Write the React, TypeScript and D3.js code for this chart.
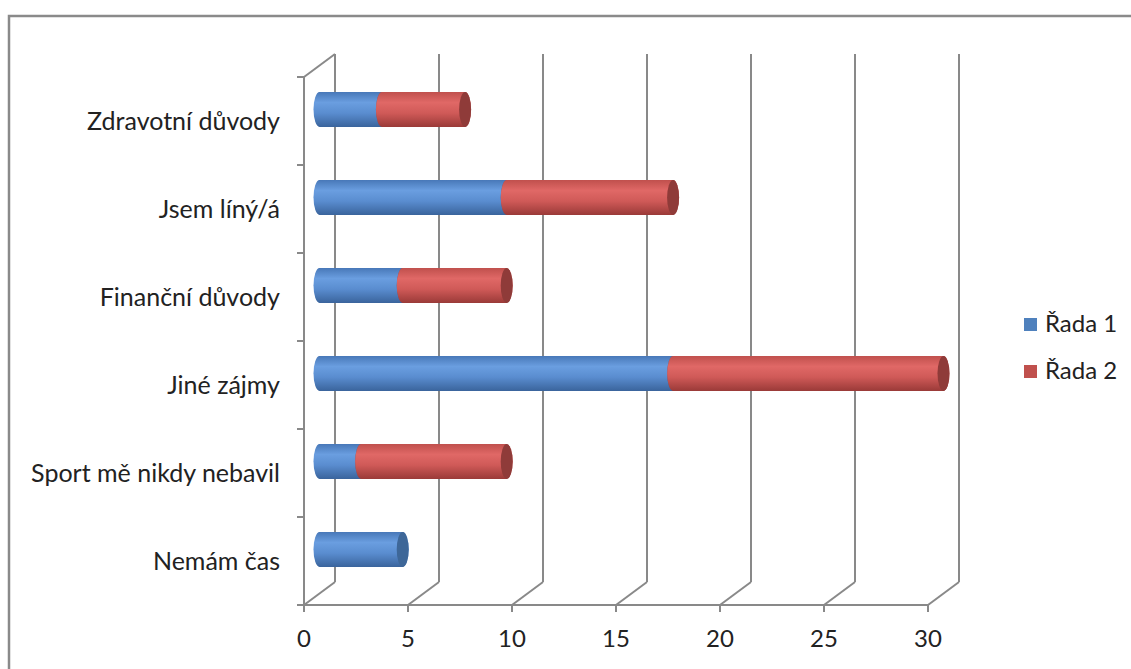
import React from "react";
import * as d3 from "d3";

const categories = [
  "Zdravotní důvody",
  "Jsem líný/á",
  "Finanční důvody",
  "Jiné zájmy",
  "Sport mě nikdy nebavil",
  "Nemám čas",
];
const series1 = [3, 9, 4, 17, 2, 4];
const series2 = [4, 8, 5, 13, 7, 0];
const seriesNames = ["Řada 1", "Řada 2"];
const xTicks = [0, 5, 10, 15, 20, 25, 30];

const W = 1131;
const H = 669;
const FONT = "Lato, 'Open Sans', sans-serif";
const GRID = "#898989";

export default function App() {
  const x = d3.scaleLinear().domain([0, 30]).range([304, 928]);
  const y = d3.scaleBand<string>().domain(categories).range([77, 605]);
  const dx = 31;
  const dy = -23;
  const midDx = dx / 2;
  const midDy = dy / 2;
  const barH = 35;
  const rx = 6;
  const ry = barH / 2;
  const top = 77;
  const bottom = 605;

  const stack = d3
    .stack<number>()
    .keys(["a", "b"])
    .value((i, k) => (k === "a" ? series1[i] : series2[i]));
  const stacked = stack(categories.map((_, i) => i));

  const grads = [
    { id: "g1", stops: ["#4878b8", "#6a9ee0", "#5a8dd0", "#3a649c"], cap: "#3e6798" },
    { id: "g2", stops: ["#c0504d", "#e06866", "#d05a58", "#9a3a38"], cap: "#8f3b39" },
  ];

  const cyl = (x0: number, x1: number, cy: number) => {
    const yt = cy - ry;
    const yb = cy + ry;
    return `M${x0},${yt} L${x1},${yt} A${rx},${ry} 0 0 1 ${x1},${yb} L${x0},${yb} A${rx},${ry} 0 0 1 ${x0},${yt} Z`;
  };

  return (
    <svg
      width={W}
      height={H}
      style={{ position: "absolute", left: 0, top: 0, background: "#fff" }}
    >
      <defs>
        {grads.map((g) => (
          <linearGradient key={g.id} id={g.id} x1="0" y1="0" x2="0" y2="1">
            <stop offset="0" stopColor={g.stops[0]} />
            <stop offset="0.3" stopColor={g.stops[1]} />
            <stop offset="0.6" stopColor={g.stops[2]} />
            <stop offset="1" stopColor={g.stops[3]} />
          </linearGradient>
        ))}
      </defs>
      <rect x={9} y={16} width={1140} height={670} fill="#fff" stroke="#8a8a8a" strokeWidth={2.5} />

      {/* back wall gridlines */}
      {xTicks.map((t) => (
        <g key={t}>
          <line x1={x(t) + dx} x2={x(t) + dx} y1={top + dy} y2={bottom + dy} stroke={GRID} strokeWidth={2} />
          <line x1={x(t)} y1={bottom} x2={x(t) + dx} y2={bottom + dy} stroke={GRID} strokeWidth={2} />
          <line x1={x(t)} x2={x(t)} y1={bottom} y2={bottom + 7} stroke={GRID} strokeWidth={2} />
          <text
            x={x(t)}
            y={647}
            textAnchor="middle"
            fontFamily={FONT}
            fontSize={24}
            fill="#222"
          >
            {t}
          </text>
        </g>
      ))}
      {/* left side wall */}
      <line x1={x(0)} x2={x(0)} y1={top} y2={bottom} stroke={GRID} strokeWidth={2} />
      <line x1={x(0)} y1={top} x2={x(0) + dx} y2={top + dy} stroke={GRID} strokeWidth={2} />
      {[...categories.map((c) => y(c) as number), bottom].map((v, i) => (
        <line key={i} x1={x(0) - 7} x2={x(0)} y1={v} y2={v} stroke={GRID} strokeWidth={2} />
      ))}
      {/* floor front edge */}
      <line x1={x(0) - 7} x2={x(30)} y1={bottom} y2={bottom} stroke={GRID} strokeWidth={2} />

      {/* category labels */}
      {categories.map((c) => (
        <text
          key={c}
          x={280}
          y={(y(c) as number) + y.bandwidth() / 2 + 9}
          textAnchor="end"
          fontFamily={FONT}
          fontSize={25}
          fill="#222"
        >
          {c}
        </text>
      ))}

      {/* cylinders */}
      {categories.map((c, i) => {
        const cy = (y(c) as number) + y.bandwidth() / 2 + midDy;
        return (
          <g key={c}>
            {stacked.map((s, si) => {
              const [v0, v1] = s[i];
              if (v1 - v0 <= 0) return null;
              const x0 = x(v0) + midDx;
              const x1 = x(v1) + midDx;
              return (
                <g key={si}>
                  <path d={cyl(x0, x1, cy)} fill={`url(#${grads[si].id})`} />
                  <ellipse cx={x1} cy={cy} rx={rx} ry={ry} fill={grads[si].cap} />
                </g>
              );
            })}
          </g>
        );
      })}

      {/* legend */}
      {seriesNames.map((n, i) => (
        <g key={n}>
          <rect x={1024} y={318 + i * 47} width={13} height={13} fill={i === 0 ? "#4f81bd" : "#c0504d"} />
          <text x={1045} y={332 + i * 47} fontFamily={FONT} fontSize={24} fill="#222">
            {n}
          </text>
        </g>
      ))}
    </svg>
  );
}
